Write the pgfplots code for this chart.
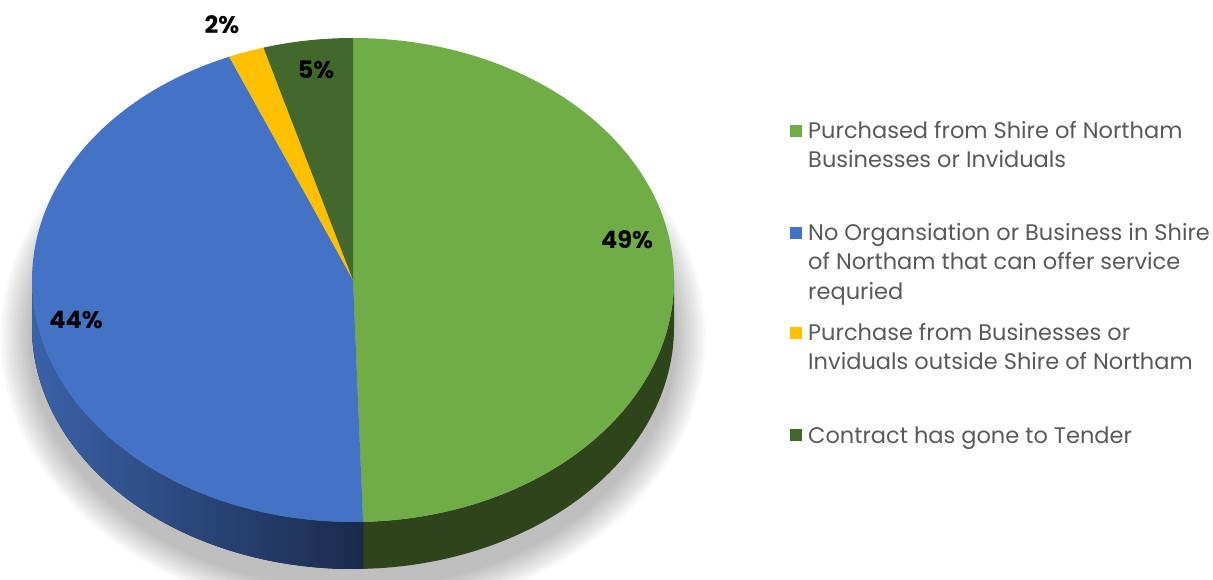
\documentclass[border=0pt]{standalone}
\usepackage{pgfplots}
\pgfplotsset{compat=1.18}
\usepackage{fontspec}
\setmainfont{Poppins}
\definecolor{cgreen}{HTML}{70AD47}
\definecolor{cblue}{HTML}{4472C4}
\definecolor{cyellow}{HTML}{FFC000}
\definecolor{cdkgreen}{HTML}{43682B}
\definecolor{gside}{HTML}{2E451C}
\definecolor{bsideL}{HTML}{3A62A8}
\definecolor{bsideR}{HTML}{1A2A4C}
\definecolor{legtext}{HTML}{595959}
% data: shares in percent
\def\vA{49.5}\def\vB{44.2}\def\vC{1.8}\def\vD{4.5}
\def\pcx{353}\def\pcy{299}\def\prx{321}\def\pry{242}\def\pdd{47}
\pgfmathsetmacro{\aA}{90}
\pgfmathsetmacro{\aB}{90-3.6*\vA}
\pgfmathsetmacro{\aC}{\aB-3.6*\vB}
\pgfmathsetmacro{\aD}{\aC-3.6*\vC}
\pgfmathsetmacro{\aE}{\aD-3.6*\vD}
\pgfmathsetmacro{\aBB}{\aB+360}
\begin{document}
\begin{tikzpicture}
\useasboundingbox (0,0) rectangle (1213pt,579pt);
\begin{axis}[scale only axis, width=1213pt, height=579pt,
  xmin=0, xmax=1213, ymin=0, ymax=579, hide axis, clip=false,
  anchor=south west, at={(0,0)}]
% shadow
\pgfplotsinvokeforeach{0,...,11}{
  \fill[black, opacity=0.022] (axis cs:{\pcx},{\pcy-\pdd-10}) ellipse [x radius={\prx+3+2.6*#1}, y radius={\pry+10+2.4*#1}];
}
% side faces
\fill[gside] (axis cs:{\pcx+\prx},{\pcy}) arc[start angle=0, end angle=\aB, x radius=\prx, y radius=\pry]
  -- ++(axis direction cs:0,-\pdd) arc[start angle=\aB, end angle=0, x radius=\prx, y radius=\pry] -- cycle;
\fill[left color=bsideL, right color=bsideR] (axis cs:{\pcx-\prx},{\pcy}) arc[start angle=180, end angle=\aBB, x radius=\prx, y radius=\pry]
  -- ++(axis direction cs:0,-\pdd) arc[start angle=\aBB, end angle=180, x radius=\prx, y radius=\pry] -- cycle;
% top faces
\fill[cgreen] (axis cs:\pcx,\pcy) -- (axis cs:\pcx,{\pcy+\pry}) arc[start angle=\aA, end angle=\aB, x radius=\prx, y radius=\pry] -- cycle;
\fill[cblue] (axis cs:\pcx,\pcy) -- (axis cs:{\pcx+\prx*cos(\aB)},{\pcy+\pry*sin(\aB)}) arc[start angle=\aB, end angle=\aC, x radius=\prx, y radius=\pry] -- cycle;
\fill[cyellow] (axis cs:\pcx,\pcy) -- (axis cs:{\pcx+\prx*cos(\aC)},{\pcy+\pry*sin(\aC)}) arc[start angle=\aC, end angle=\aD, x radius=\prx, y radius=\pry] -- cycle;
\fill[cdkgreen] (axis cs:\pcx,\pcy) -- (axis cs:{\pcx+\prx*cos(\aD)},{\pcy+\pry*sin(\aD)}) arc[start angle=\aD, end angle=\aE, x radius=\prx, y radius=\pry] -- cycle;
% data labels
\node[font=\fontsize{24}{28}\selectfont\bfseries, inner sep=0pt] at (axis cs:627,339) {49\%};
\node[font=\fontsize{24}{28}\selectfont\bfseries, inner sep=0pt] at (axis cs:76,259) {44\%};
\node[font=\fontsize{24}{28}\selectfont\bfseries, inner sep=0pt] at (axis cs:222,554) {2\%};
\node[font=\fontsize{24}{28}\selectfont\bfseries, inner sep=0pt] at (axis cs:316,509) {5\%};
% legend
\node[minimum size=12pt, inner sep=0pt, fill=cgreen] at (axis cs:796,448) {};
\node[font=\fontsize{22.5}{27}\selectfont, text=legtext, anchor=base west, inner sep=0pt] at (axis cs:808,440) {Purchased from Shire of Northam};
\node[font=\fontsize{22.5}{27}\selectfont, text=legtext, anchor=base west, inner sep=0pt] at (axis cs:808,411) {Businesses or Inviduals};
\node[minimum size=12pt, inner sep=0pt, fill=cblue] at (axis cs:796,346) {};
\node[font=\fontsize{22.5}{27}\selectfont, text=legtext, anchor=base west, inner sep=0pt] at (axis cs:808,338) {No Organsiation or Business in Shire};
\node[font=\fontsize{22.5}{27}\selectfont, text=legtext, anchor=base west, inner sep=0pt] at (axis cs:808,309) {of Northam that can offer service};
\node[font=\fontsize{22.5}{27}\selectfont, text=legtext, anchor=base west, inner sep=0pt] at (axis cs:808,279) {requried};
\node[minimum size=12pt, inner sep=0pt, fill=cyellow] at (axis cs:796,246) {};
\node[font=\fontsize{22.5}{27}\selectfont, text=legtext, anchor=base west, inner sep=0pt] at (axis cs:808,238) {Purchase from Businesses or};
\node[font=\fontsize{22.5}{27}\selectfont, text=legtext, anchor=base west, inner sep=0pt] at (axis cs:808,209) {Inviduals outside Shire of Northam};
\node[minimum size=12pt, inner sep=0pt, fill=cdkgreen] at (axis cs:796,144) {};
\node[font=\fontsize{22.5}{27}\selectfont, text=legtext, anchor=base west, inner sep=0pt] at (axis cs:808,136) {Contract has gone to Tender};
\end{axis}
\end{tikzpicture}
\end{document}
